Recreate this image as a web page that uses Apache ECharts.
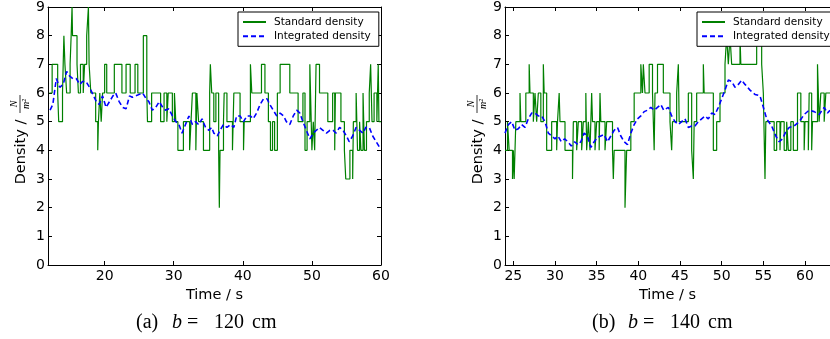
<!DOCTYPE html>
<html lang="en">
<head>
<meta charset="UTF-8">
<title>Density</title>
<script src="https://cdn.jsdelivr.net/npm/echarts@6/dist/echarts.min.js"></script>
<style>
  html, body { margin: 0; padding: 0; background: #fff; }
  #main { width: 830px; height: 339px; }
</style>
</head>
<body>
<div id="main"></div>
<script>
// (a) b = 120 cm  -- standard density: change points [time, value]
var stdA = [
  [12,6],[12.4,7],[13.2,6],[13.35,5],[13.9,6],[14.0,7],[14.1,8],[14.25,7],[14.5,6],[15.0,7],
  [15.15,8],[15.28,9],[15.35,8],[16.0,7],[16.2,6],[16.5,7],[16.9,6],[17.1,7],[17.4,8],[17.65,9],
  [17.75,7],[18.0,6],[18.7,5],[19.0,4],[19.1,5],[19.3,6],[19.5,5],[19.7,6],[20.0,7],[20.3,6],
  [21.4,7],[22.5,6],[23.1,7],[23.7,6],[24.4,7],[24.8,6],[25.6,8],[26.1,6],[26.2,5],[26.8,6],
  [28.1,5],[28.6,6],[29.0,5],[29.2,6],[29.8,5],[30.1,6],[30.3,5],[30.6,4],[31.4,5],[32.3,4],
  [32.5,5],[32.7,6],[33.2,4],[33.35,6],[33.6,5],[34.3,4],[35.2,6],[35.3,7],[35.5,6],[35.8,5],
  [36.1,6],[36.5,4],[36.6,2],[36.7,4],[37.2,5],[37.3,6],[37.7,5],[38.5,4],[38.7,6],[39.6,5],
  [40.1,4],[40.2,5],[41.1,7],[41.3,6],[42.7,7],[43.2,6],[43.7,5],[44.0,4],[44.3,5],[44.6,4],
  [45.0,6],[45.4,7],[46.8,6],[48.0,5],[48.7,6],[49.0,4],[49.3,5],[49.7,7],[49.8,6],[50.0,4],
  [50.2,5],[50.4,4],[50.6,7],[51.1,6],[52.3,5],[53.0,6],[53.3,4],[53.4,6],[54.2,5],[54.7,4],
  [54.9,3],[55.5,4],[55.9,3],[56.0,5],[56.4,6],[56.6,4],[56.9,5],[57.1,4],[57.4,6],[57.6,4],
  [57.9,5],[58.3,6],[58.5,7],[58.7,5],[59.0,6],[59.4,5],[59.6,7],[59.7,5],[60,5]
];
// (a) integrated density
var intA = [
  [12.1,5.4],[12.5,5.6],[13.0,6.5],[13.5,6.2],[14.0,6.3],[14.5,6.75],[14.9,6.6],[15.4,6.5],
  [15.9,6.5],[16.4,6.3],[16.8,6.4],[17.3,6.4],[17.8,6.2],[18.3,5.95],[18.8,5.7],[19.2,5.6],
  [19.7,5.9],[20.2,5.5],[20.7,5.7],[21.2,5.9],[21.6,6.0],[22.1,5.7],[22.6,5.5],[23.1,5.45],
  [23.6,5.9],[24.0,5.85],[24.5,5.9],[25.5,6.0],[26.0,5.8],[26.4,5.7],[26.9,5.4],[27.4,5.5],
  [27.9,5.7],[28.4,5.5],[28.8,5.4],[29.3,5.45],[29.8,5.2],[30.3,5.0],[30.75,4.9],[31.2,4.6],
  [31.7,4.9],[32.2,5.2],[32.7,4.9],[33.15,5.0],[33.6,4.9],[34.1,5.1],[34.6,4.8],[35.1,4.7],
  [35.5,4.8],[35.8,4.6],[36.3,4.5],[36.7,4.7],[37.2,4.9],[37.7,4.8],[38.2,4.9],[38.7,4.8],
  [39.1,5.2],[39.6,5.2],[40.1,5.0],[40.6,5.2],[41.1,5.2],[41.5,5.1],[42.0,5.3],[42.5,5.6],
  [43.0,5.8],[43.5,5.8],[43.9,5.6],[44.4,5.4],[44.9,5.2],[45.4,5.3],[45.9,5.2],[46.3,5.0],
  [46.8,4.9],[47.3,5.2],[47.8,5.4],[48.25,5.3],[48.7,5.0],[49.2,4.7],[49.7,4.4],[50.2,4.6],
  [50.65,4.7],[51.1,4.8],[51.6,4.7],[52.1,4.6],[52.6,4.7],[53.05,4.7],[53.5,4.6],[54.0,4.8],
  [54.5,4.7],[55.0,4.5],[55.4,4.3],[55.9,4.5],[56.4,4.8],[56.9,4.7],[57.4,4.6],[57.8,4.8],
  [58.3,4.8],[58.8,4.5],[59.3,4.3],[59.8,4.1],[60,4.1]
];
// (b) b = 140 cm  -- standard density
var stdB = [
  [24,4],[24.3,5],[24.5,4],[24.9,3],[25.0,4],[25.1,3],[25.3,5],[25.8,6],[25.9,5],[26.5,6],
  [26.9,7],[27.0,6],[27.4,5],[27.6,6],[27.8,5],[28.0,6],[28.3,5],[28.6,7],[28.7,6],[29.0,4],
  [29.6,5],[30.2,4],[30.3,5],[30.5,6],[30.6,5],[31.2,4],[32.1,3],[32.2,5],[32.6,4],[32.8,5],
  [33.2,4],[33.4,5],[33.7,6],[33.8,4],[34.0,5],[34.2,4],[34.4,6],[34.5,5],[34.8,4],[35.0,5],
  [35.3,4],[35.4,6],[35.5,5],[36.0,4],[36.2,5],[36.9,4],[37.0,3],[37.1,4],[38.4,2],[38.6,4],
  [39.1,5],[39.5,6],[40.3,7],[40.5,6],[40.6,7],[40.8,6],[41.3,7],[41.7,6],[41.9,4],[42.0,6],
  [42.3,7],[43.0,6],[43.8,5],[44.0,4],[44.1,5],[44.6,6],[44.8,7],[44.9,5],[46.0,6],[46.4,4],
  [46.6,3],[46.7,5],[47.0,6],[47.8,7],[47.9,6],[49.0,4],[49.4,5],[49.8,6],[50.4,7],[50.6,8],
  [50.8,7],[51.0,8],[51.2,7],[52.2,8],[52.3,7],[54.2,8],[54.8,7],[55.0,6],[55.2,3],[55.3,5],
  [56.3,4],[56.6,5],[57.0,4],[57.1,5],[57.5,4],[57.8,5],[58.0,4],[58.3,5],[58.6,4],[59.1,6],
  [59.5,5],[59.9,4],[60.0,5],[60.4,4],[60.5,6],[60.8,4],[60.9,5],[61.5,7],[61.7,5],[61.9,6],
  [62.3,5],[62.5,6],[63,6]
];
// (b) integrated density
var intB = [
  [24.0,4.6],[24.4,4.9],[24.8,5.0],[25.2,4.7],[25.6,4.75],[26.0,4.9],[26.4,4.8],[26.8,5.1],
  [27.2,5.3],[27.6,5.3],[28.0,5.2],[28.4,5.2],[28.8,5.0],[29.2,4.6],[29.6,4.5],[30.0,4.4],
  [30.35,4.5],[30.75,4.3],[31.15,4.4],[31.55,4.3],[31.95,4.15],[32.35,4.3],[32.75,4.2],[33.1,4.3],
  [33.5,4.6],[33.9,4.5],[34.3,4.1],[34.7,4.3],[35.1,4.45],[35.5,4.5],[35.9,4.55],[36.3,4.3],
  [36.7,4.5],[37.1,4.7],[37.5,4.8],[37.9,4.5],[38.3,4.3],[38.7,4.2],[39.1,4.6],[39.5,4.9],
  [39.9,5.1],[40.3,5.2],[40.7,5.35],[41.1,5.4],[41.5,5.5],[41.9,5.4],[42.3,5.5],[42.7,5.6],
  [43.05,5.4],[43.6,5.5],[44.0,5.2],[44.4,5.0],[44.8,4.9],[45.2,5.0],[45.6,5.1],[46.0,4.8],
  [46.4,4.85],[46.8,4.85],[47.2,5.0],[47.6,5.1],[48.0,5.2],[48.4,5.1],[48.8,5.3],[49.2,5.25],
  [49.6,5.5],[50.0,5.8],[50.4,6.1],[50.8,6.45],[51.2,6.4],[51.6,6.2],[52.0,6.3],[52.4,6.45],
  [52.8,6.3],[53.4,6.1],[54.0,5.95],[54.6,5.9],[55.0,5.5],[55.4,5.1],[56.0,4.85],[56.5,4.5],
  [56.9,4.3],[57.3,4.4],[57.7,4.65],[58.1,4.8],[58.7,4.85],[59.3,5.0],[59.9,5.25],[60.5,5.4],
  [61.1,5.35],[61.7,5.25],[62.3,5.5],[62.7,5.3],[63,5.4]
];
var ticksA = [20, 30, 40, 50, 60];
var ticksB = [25, 30, 35, 40, 45, 50, 55, 60];
var seriesNames = ['Standard density', 'Integrated density'];

var sansFont = '"DejaVu Sans", sans-serif';
var serifFont = '"Liberation Serif", "DejaVu Serif", serif';

function xAx(grid, min, max, ticks, top, hideLine) {
  return {
    type: 'value', gridIndex: grid, min: min, max: max,
    position: top ? 'top' : 'bottom',
    splitLine: { show: false },
    axisLine: { show: true, onZero: false, lineStyle: { color: '#000', width: 1 } },
    axisTick: { show: true, inside: true, length: 4, customValues: ticks, lineStyle: { color: '#000' } },
    axisLabel: { show: !top, customValues: ticks, color: '#000', fontSize: 14, fontFamily: sansFont, margin: 4 },
    name: top ? '' : 'Time / s', nameLocation: 'middle', nameGap: 19,
    nameTextStyle: { color: '#000', fontSize: 14.5, fontFamily: sansFont }
  };
}
function yAx(grid, right, hidden) {
  return {
    type: 'value', gridIndex: grid, min: 0, max: 9, interval: 1,
    position: right ? 'right' : 'left',
    splitLine: { show: false },
    axisLine: { show: !hidden, onZero: false, lineStyle: { color: '#000', width: 1 } },
    axisTick: { show: !hidden, inside: true, length: 4, lineStyle: { color: '#000' } },
    axisLabel: { show: !right, color: '#000', fontSize: 14, fontFamily: sansFont, margin: 3 }
  };
}
function legendAt(left) {
  return {
    left: left, top: 12, orient: 'vertical',
    data: seriesNames,
    itemWidth: 23, itemHeight: 10, itemGap: 2.3,
    padding: [4, 8, 4, 4],
    borderColor: '#000', borderWidth: 1, borderRadius: 0,
    backgroundColor: '#fff',
    selectedMode: false,
    itemStyle: { opacity: 0 },
    textStyle: { color: '#000', fontSize: 10.5, fontFamily: sansFont, lineHeight: 12, padding: [0, 0, 0, 3] }
  };
}
function yLabel(x0) {
  return [
    { type: 'text', x: x0 + 21, y: 152, rotation: Math.PI / 2,
      style: { text: 'Density /', font: '14.5px ' + sansFont, fill: '#000', align: 'center', verticalAlign: 'middle' } },
    { type: 'text', x: x0 + 14, y: 104, rotation: Math.PI / 2,
      style: { text: 'N', font: 'italic 10px ' + serifFont, fill: '#000', align: 'center', verticalAlign: 'middle' } },
    { type: 'line', shape: { x1: x0 + 20, y1: 95, x2: x0 + 20, y2: 113 }, style: { stroke: '#000', lineWidth: 0.8 } },
    { type: 'text', x: x0 + 26, y: 104, rotation: Math.PI / 2,
      style: { text: 'm\u00b2', font: 'italic 10px ' + serifFont, fill: '#000', align: 'center', verticalAlign: 'middle' } }
  ];
}
function caption(x, tag, val) {
  var base = { fontSize: 20, fontFamily: serifFont, color: '#000' };
  return { type: 'text', x: x, y: 323,
    style: { text: '{p|(' + tag + ')}{b|b}{e|=}{n|' + val + '}{c|cm}', font: '20px ' + serifFont, fill: '#000',
      verticalAlign: 'middle',
      rich: {
        p: Object.assign({ width: 36 }, base),
        b: Object.assign({ width: 15, fontStyle: 'italic' }, base),
        e: Object.assign({ width: 27 }, base),
        n: Object.assign({ width: 38 }, base),
        c: Object.assign({}, base)
      } } };
}
function stdSeries(data, idx) {
  return { name: seriesNames[0], type: 'line', step: 'end', data: data, xAxisIndex: idx, yAxisIndex: idx,
    showSymbol: false, symbol: 'none', color: '#008000', lineStyle: { color: '#008000', width: 1.2 },
    clip: true, animation: false, z: 2 };
}
function intSeries(data, idx) {
  return { name: seriesNames[1], type: 'line', data: data, xAxisIndex: idx, yAxisIndex: idx,
    showSymbol: false, symbol: 'none', color: '#0000ff', lineStyle: { color: '#0000ff', width: 1.6, type: [5, 3] },
    clip: true, animation: false, z: 3 };
}

var myChart = echarts.init(document.getElementById('main'));
var option = {
  backgroundColor: '#fff',
  animation: false,
  grid: [
    { left: 48, top: 7, width: 333, height: 258 },
    { left: 505, top: 7, width: 325, height: 258 }
  ],
  xAxis: [
    xAx(0, 11.8, 60, ticksA, false), xAx(0, 11.8, 60, ticksA, true),
    xAx(1, 24, 63, ticksB, false), xAx(1, 24, 63, ticksB, true)
  ],
  yAxis: [ yAx(0, false), yAx(0, true), yAx(1, false), yAx(1, true, true) ],
  legend: [ legendAt(238), legendAt(697) ],
  series: [
    stdSeries(stdA, 0), intSeries(intA, 0),
    stdSeries(stdB, 2), intSeries(intB, 2)
  ],
  graphic: yLabel(0).concat(yLabel(457)).concat([caption(136, 'a', '120'), caption(592, 'b', '140')])
};
myChart.setOption(option);
</script>
</body>
</html>
